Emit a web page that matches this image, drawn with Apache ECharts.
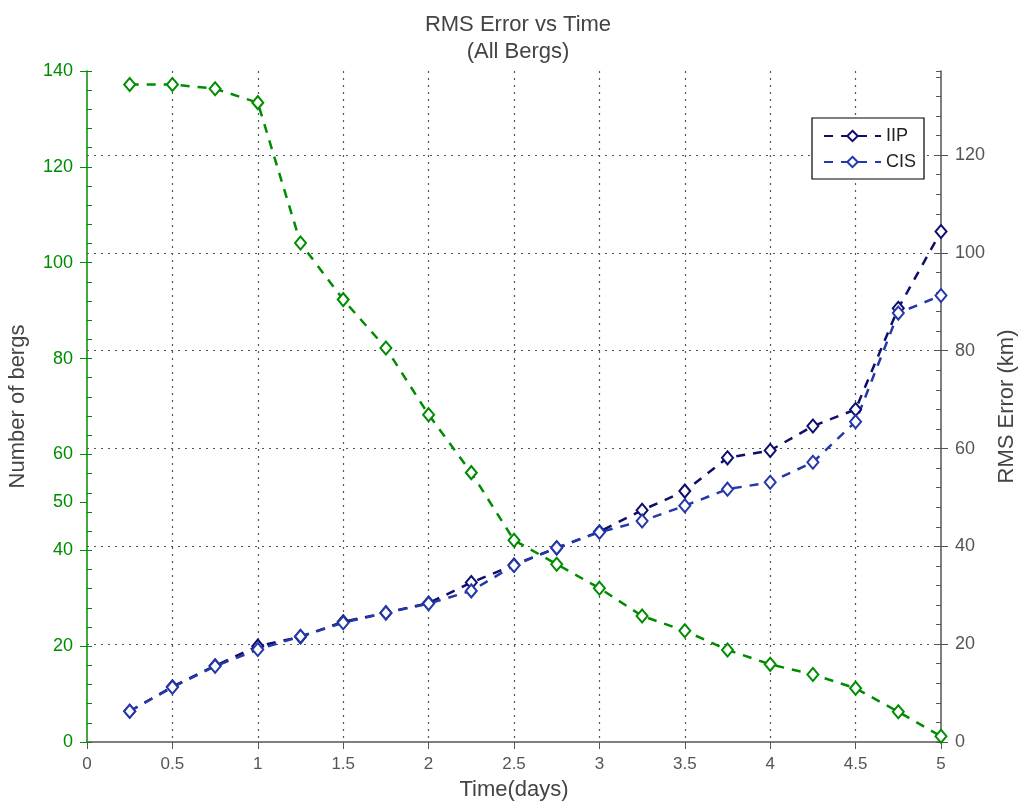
<!DOCTYPE html>
<html><head><meta charset="utf-8">
<script src="https://cdn.jsdelivr.net/npm/echarts@6/dist/echarts.min.js"></script>
<style>html,body{margin:0;padding:0;background:#fff}#c{width:1021px;height:804px}</style>
</head><body><div id="c"></div>
<script>
// ---- data ----
const times = [0.25,0.5,0.75,1,1.25,1.5,1.75,2,2.25,2.5,2.75,3,3.25,3.5,3.75,4,4.25,4.5,4.75,5];
const bergCount = [137.2,137.2,136.3,133.4,104.1,92.3,82.2,68.3,56.2,42.1,37.1,32.1,26.3,23.2,19.2,16.2,14.1,11.2,6.3,1.2];
const iipRms = [6.3,11.3,15.6,19.6,21.5,24.6,26.4,28.4,32.6,36.2,39.7,43.0,47.4,51.3,58.1,59.6,64.6,68.0,88.7,104.4];
const cisRms = [6.3,11.2,15.5,18.9,21.6,24.4,26.4,28.3,30.9,36.1,39.7,42.9,45.2,48.3,51.7,53.1,57.2,65.5,87.7,91.3];
const leftTickLabels = [0,20,40,50,60,80,100,120,140];
const seriesNames = ['Number of bergs','IIP','CIS'];
const titleLines = ['RMS Error vs Time','(All Bergs)'];

const FONT = 'Liberation Sans';
const GREEN = '#008c00';
const IIP_C = '#0e0e6c';
const CIS_C = '#2438aa';
const AXIS_C = '#555';

const pairs = v => times.map((t,i)=>[t,v[i]]);

function lineSeries(name, data, color, yIdx){
  return {
    name, type:'line', yAxisIndex:yIdx, data:pairs(data),
    symbol:'emptyDiamond', symbolSize:[11,13],
    lineStyle:{type:[9,8], width:2.5, color},
    itemStyle:{color, borderColor:color, borderWidth:2.5},
    emphasis:{disabled:true}
  };
}

const chart = echarts.init(document.getElementById('c'));
chart.setOption({
  animation:false,
  backgroundColor:'#fff',
  textStyle:{fontFamily:FONT},
  title:{
    text: titleLines.join('\n'), left:513, top:6, textAlign:'center',
    textStyle:{fontFamily:FONT, fontSize:22, fontWeight:'normal', color:'#444', lineHeight:27}
  },
  legend:{
    data:['IIP','CIS'], orient:'vertical', left:812, top:118,
    itemWidth:57, itemHeight:13, itemGap:8,
    padding:[9,8,8,11], borderColor:'#000', borderWidth:1.2, backgroundColor:'#fff',
    textStyle:{fontFamily:FONT, fontSize:18, color:'#222'}
  },
  grid:{left:87, right:80, top:71, bottom:62, containLabel:false, outerBoundsMode:'none'},
  xAxis:{
    type:'value', min:0, max:5, interval:0.5,
    name:'Time(days)', nameLocation:'middle', nameGap:37,
    nameTextStyle:{fontFamily:FONT, fontSize:22, color:'#444'},
    axisLine:{lineStyle:{color:AXIS_C, width:1.5}},
    axisTick:{length:7, lineStyle:{color:AXIS_C}},
    axisLabel:{fontFamily:FONT, fontSize:17, color:'#555', margin:14},
    splitLine:{show:true, showMinLine:false, showMaxLine:false, lineStyle:{type:[2,5], color:'#555', width:1.2}}
  },
  yAxis:[
    {
      type:'value', position:'left', min:0, max:140, interval:20,
      name:'Number of bergs', nameLocation:'middle', nameGap:58, nameRotate:90,
      nameTextStyle:{fontFamily:FONT, fontSize:22, color:'#444'},
      axisLine:{show:true, lineStyle:{color:GREEN, width:1.5}},
      axisTick:{show:true, length:7, customValues:leftTickLabels, lineStyle:{color:GREEN}},
      axisLabel:{fontFamily:FONT, fontSize:18, color:GREEN, margin:14, customValues:leftTickLabels},
      splitLine:{show:false}
    },
    {
      type:'value', position:'right', min:0, max:137.2, interval:20,
      name:'RMS Error (km)', nameLocation:'middle', nameGap:54, nameRotate:90,
      nameTextStyle:{fontFamily:FONT, fontSize:22, color:'#444'},
      axisLine:{show:true, lineStyle:{color:AXIS_C, width:1.5}},
      axisTick:{show:true, length:7, lineStyle:{color:AXIS_C}},
      axisLabel:{fontFamily:FONT, fontSize:18, color:'#555', margin:14, showMaxLabel:false},
      splitLine:{show:true, showMinLine:false, showMaxLine:false, lineStyle:{type:[2,5], color:'#555', width:1.2}}
    },
    {
      type:'value', position:'left', min:0, max:140, interval:20,
      axisLine:{show:false}, axisLabel:{show:false}, splitLine:{show:false},
      axisTick:{show:true, inside:true, length:5, lineStyle:{color:GREEN}},
      minorTick:{show:true, splitNumber:5, length:5, lineStyle:{color:GREEN}}
    },
    {
      type:'value', position:'right', min:0, max:137.2, interval:20,
      axisLine:{show:false}, axisLabel:{show:false}, splitLine:{show:false},
      axisTick:{show:true, inside:true, length:5, lineStyle:{color:AXIS_C}},
      minorTick:{show:true, splitNumber:5, length:5, lineStyle:{color:AXIS_C}}
    }
  ],
  series:[
    lineSeries(seriesNames[0], bergCount, GREEN, 0),
    lineSeries(seriesNames[1], iipRms, IIP_C, 1),
    lineSeries(seriesNames[2], cisRms, CIS_C, 1)
  ]
});
</script></body></html>
